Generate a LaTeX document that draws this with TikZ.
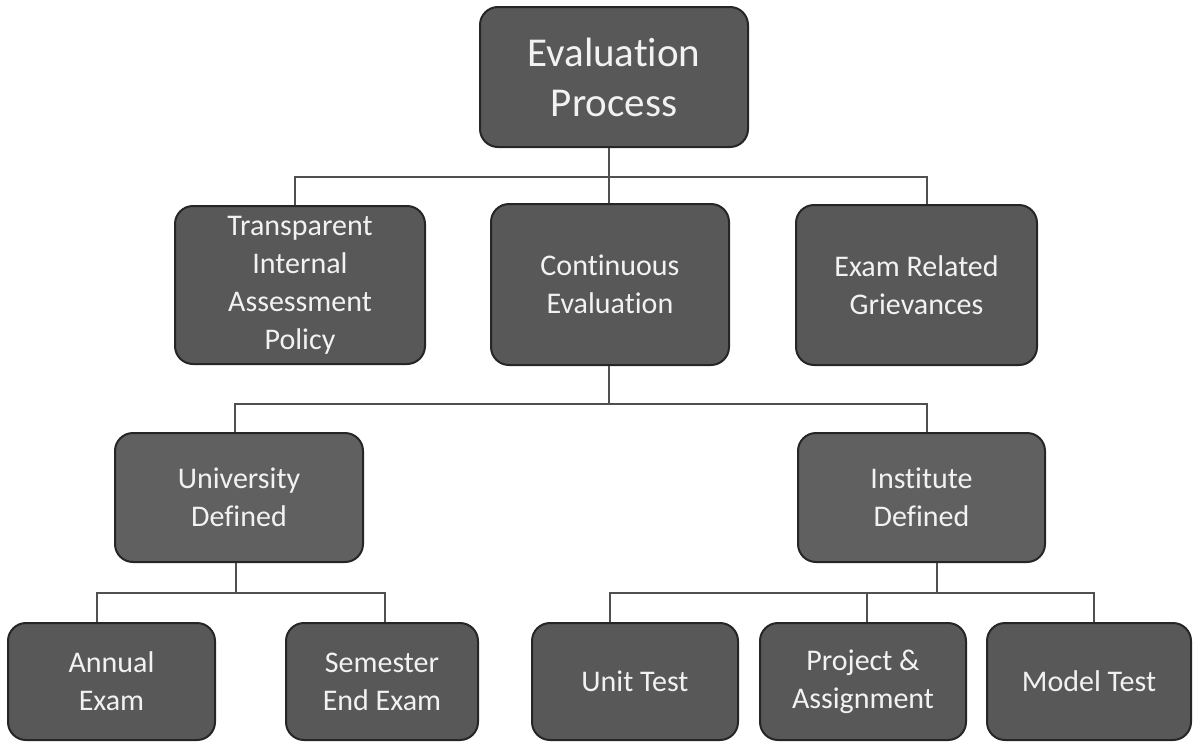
\documentclass[tikz,border=0pt]{standalone}
\usepackage{fontspec}
\setmainfont[Ligatures={NoCommon},RawFeature={-liga;-calt}]{Carlito}
\newcommand{\nolig}{\kern0pt}
\definecolor{boxfill}{HTML}{585858}
\definecolor{boxfilltwo}{HTML}{606060}
\definecolor{boxline}{HTML}{262626}
\definecolor{boxtext}{HTML}{F2F2F2}
\definecolor{conncol}{HTML}{505050}
\begin{document}
\begin{tikzpicture}[x=1pt,y=-1pt,
  box/.style={draw=boxline, line width=2pt, fill=boxfill, rounded corners=18pt,
    text=boxtext, align=center, inner sep=0pt, font=\fontsize{30}{38}\selectfont},
  lighter/.style={fill=boxfilltwo},
  conn/.style={draw=conncol, line width=1.3pt}]
\useasboundingbox (0,0) rectangle (1198,742);
% boxes
\node[box, minimum width=268pt, minimum height=140pt, font=\fontsize{41}{50}\selectfont] (top) at (614,77) {Evaluat\nolig ion\\Process};
\node[box, minimum width=250pt, minimum height=158pt] (trans) at (300,285) {Transparent\\Internal\\Assessment\\Policy};
\node[box, minimum width=238pt, minimum height=161pt] (cont) at (610,284.5) {Cont\nolig inuous\\Evaluat\nolig ion};
\node[box, minimum width=241pt, minimum height=160pt] (exam) at (916.5,285) {Exam Related\\Grievances};
\node[box, lighter, minimum width=248pt, minimum height=129pt] (univ) at (239,497.5) {University\\Defined};
\node[box, lighter, minimum width=247pt, minimum height=129pt] (inst) at (921.5,497.5) {Inst\nolig itute\\Defined};
\node[box, minimum width=207pt, minimum height=117pt] (annual) at (111.5,681.5) {Annual\\Exam};
\node[box, minimum width=192pt, minimum height=117pt] (sem) at (382,681.5) {Semester\\End Exam};
\node[box, minimum width=206pt, minimum height=117pt] (unit) at (635,681.5) {Unit Test};
\node[box, minimum width=206pt, minimum height=117pt] (proj) at (863,681.5) {Project \&\\Assignment};
\node[box, minimum width=204pt, minimum height=117pt] (model) at (1089,681.5) {Model Test};
% bus coordinates
\coordinate (busA) at (609,177);
\coordinate (busB) at (609,404);
\coordinate (busC) at (236,593);
\coordinate (busD) at (937,593);
% level 1
\draw[conn] (609,0 |- top.south) -- (busA);
\draw[conn] (295,0 |- trans.north) -- (295,177) -- (927,177) -- (927,0 |- exam.north);
\draw[conn] (busA) -- (609,0 |- cont.north);
% level 2
\draw[conn] (609,0 |- cont.south) -- (busB);
\draw[conn] (235,0 |- univ.north) -- (235,404) -- (927,404) -- (927,0 |- inst.north);
% level 3 left
\draw[conn] (236,0 |- univ.south) -- (busC);
\draw[conn] (97,0 |- annual.north) -- (97,593) -- (385,593) -- (385,0 |- sem.north);
% level 3 right
\draw[conn] (937,0 |- inst.south) -- (busD);
\draw[conn] (610,0 |- unit.north) -- (610,593) -- (1094,593) -- (1094,0 |- model.north);
\draw[conn] (867,593) -- (867,0 |- proj.north);
\end{tikzpicture}
\end{document}
